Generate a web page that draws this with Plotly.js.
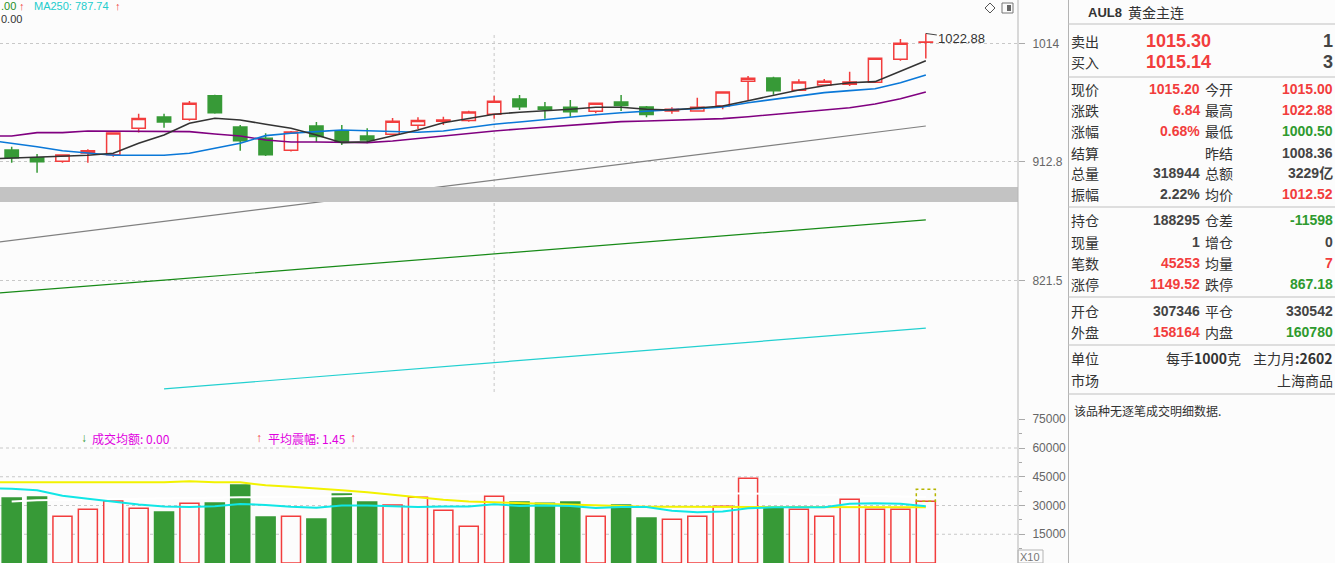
<!DOCTYPE html>
<html><head><meta charset="utf-8">
<script src="https://cdn.plot.ly/plotly-3.0.1.min.js"></script>
<style>html,body{margin:0;padding:0;background:#fcfcfc;overflow:hidden}#chart{width:1335px;height:563px}</style>
</head><body><div id="chart"></div>
<script>
// ---------- data ----------
const idx = Array.from({length:37},(_,i)=>i);
const open  = [922.5,916.2,913.3,920.0,918.6,940.4,949.8,947.9,968.0,941.5,932.1,922.3,942.3,938.4,934.0,935.4,942.9,946.2,947.0,952.2,965.2,958.4,958.1,954.7,962.6,958.4,955.0,955.0,959.2,980.4,983.2,972.6,977.2,977.8,979.5,999.7,1015.0];
const high  = [925.2,919.2,918.6,923.1,936.5,952.7,952.7,963.4,968.8,943.2,936.2,938.2,945.6,943.2,940.4,949.0,949.6,950.1,955.2,968.0,968.6,962.6,964.3,961.5,968.6,959.2,958.1,966.3,971.2,985.0,984.4,982.1,982.4,988.8,1000.6,1017.9,1022.88];
const low   = [912.1,904.1,912.1,912.1,917.0,936.8,940.9,946.7,952.7,921.9,917.6,921.3,929.1,926.5,928.0,935.4,939.6,943.2,945.9,948.4,955.8,948.4,950.1,953.0,955.0,949.6,952.7,954.3,956.4,964.3,968.8,972.6,977.2,976.4,979.5,998.5,1000.5];
const close = [916.2,912.9,918.4,921.9,936.5,948.7,945.6,961.5,953.5,930.1,918.6,937.3,933.5,928.8,930.7,946.2,947.0,947.3,954.1,963.2,958.6,956.4,954.4,961.5,959.5,951.9,956.4,958.1,971.2,983.0,972.3,979.8,980.4,979.8,1000.6,1014.0,1015.2];
const volume = [33913,34435,24365,28017,32348,28539,26609,31148,31304,40696,24000,24365,22957,36000,31826,30261,34278,27496,19148,34800,31826,31148,31826,24365,30261,23478,22800,24365,29583,44191,29374,28017,24365,33235,28017,28017,32191];
const projVolume = 38452;

const maIdx = [-1].concat(idx);
const ma5  = [915.2,916.0,916.6,917.6,918.2,919.8,928.0,934.9,944.6,948.8,947.4,943.8,940.4,934.9,928.5,929.3,934.0,939.0,945.1,948.5,952.2,953.9,955.0,956.4,958.1,958.1,956.4,955.8,957.5,959.2,963.7,968.6,972.9,976.6,979.2,980.1,989.4,998.5];
const ma10 = [930.7,928.2,925.2,921.9,919.8,918.2,918.2,918.2,919.8,923.9,928.0,934.3,936.3,937.6,939.0,938.4,937.6,937.1,938.2,941.3,943.8,945.7,947.9,949.9,951.8,953.5,955.0,956.1,956.9,958.3,962.0,964.9,967.7,970.6,972.3,974.0,979.2,986.0];
const ma20 = [934.0,934.0,936.8,936.8,938.2,938.2,938.2,937.6,937.6,935.7,934.0,930.7,929.1,929.1,928.5,928.5,929.9,932.1,934.0,936.3,938.2,939.8,941.5,943.2,944.9,946.0,946.5,947.1,947.4,948.5,950.1,951.8,953.5,955.8,957.7,960.9,965.4,971.2];
const longIdx = [-1,0,6,12,18,24,30,36];
const ma60  = [849.0,851.4,865.9,880.7,895.8,911.0,926.6,942.3];
const ma120 = [811.9,813.3,822.0,830.9,839.8,848.8,857.9,867.0];
const ma250Idx = [6,12,18,24,30,36];
const ma250 = [746.4,754.5,762.7,771.0,779.4,787.74];

const volMaA = [42104,42104,42104,42104,42104,42104,42104,42104,42626,42104,42104,40539,39756,38974,37930,36887,35530,34174,33026,32035,31670,31096,30678,30261,29843,29478,29374,29374,29374,29374,29322,29217,29061,29217,29374,29322,29217,29061];
const volMaB = [39000,38713,37930,35113,33496,31930,30470,29426,29217,29583,30783,30261,29322,28800,29948,29948,29583,29217,29478,29426,30626,29791,29948,29791,28696,29217,29217,27287,26452,26817,28539,29061,29061,29061,30939,31148,30887,29583];
const volMaWIdx = [0,1,9,13,19,29,36];
const volMaW = [32087,32700,34278,34800,36522,36261,34435];

const priceTicks = [821.5,912.8,1014];
const priceTickText = ['821.5','912.8','1014'];
const volTicks = [15000,30000,45000,60000,75000];
const volMinor = [7500,22500,37500,52500,67500];

const quoteTitle = ['AUL8','黄金主连'];
const bidAsk = [['卖出','1015.30','1'],['买入','1015.14','3']];
const quoteRows = [
 ['现价','1015.20','R','今开','1015.00','R'],
 ['涨跌','6.84','R','最高','1022.88','R'],
 ['涨幅','0.68%','R','最低','1000.50','G'],
 ['结算','','D','昨结','1008.36','D'],
 ['总量','318944','D','总额','3229亿','D'],
 ['振幅','2.22%','D','均价','1012.52','R'],
 ['持仓','188295','D','仓差','-11598','G'],
 ['现量','1','D','增仓','0','D'],
 ['笔数','45253','R','均量','7','R'],
 ['涨停','1149.52','R','跌停','867.18','G'],
 ['开仓','307346','D','平仓','330542','D'],
 ['外盘','158164','R','内盘','160780','G']
];
const unitRow = ['单位','每手1000克','主力月:2602'];
const marketRow = ['市场','上海商品'];
const noteText = '该品种无逐笔成交明细数据.';
const legendTop = ['.00','MA250: 787.74','0.00'];
const legendVol = ['成交均额: 0.00','平均震幅: 1.45'];

// ---------- styling / layout ----------
const BG='#fcfcfc', RED='#f23d3d', GREEN='#379a37', TXTG='#2e9a2e', DARK='#333333', NUM='#444444';
const W=1018, H=563;
const px = v => v/W, py = v => 1 - v/H;
const colOf = c => c==='R'?RED:(c==='G'?TXTG:NUM);
const up = idx.map(i => close[i] >= open[i]);

const traces = [
 {type:'candlestick', x:idx, open:open, high:high, low:low, close:close, xaxis:'x', yaxis:'y',
  increasing:{line:{color:RED,width:1.5}, fillcolor:BG}, decreasing:{line:{color:GREEN,width:1.5}, fillcolor:GREEN},
  whiskerwidth:0, hoverinfo:'skip', showlegend:false},
 {type:'scatter', mode:'lines', x:longIdx, y:ma60, line:{color:'#808080',width:1.2}, xaxis:'x', yaxis:'y', hoverinfo:'skip'},
 {type:'scatter', mode:'lines', x:longIdx, y:ma120, line:{color:'#178a17',width:1.2}, xaxis:'x', yaxis:'y', hoverinfo:'skip'},
 {type:'scatter', mode:'lines', x:ma250Idx, y:ma250, line:{color:'#22d0d0',width:1.2}, xaxis:'x', yaxis:'y', hoverinfo:'skip'},
 {type:'scatter', mode:'lines', x:maIdx, y:ma20, line:{color:'#800080',width:1.6}, xaxis:'x', yaxis:'y', hoverinfo:'skip'},
 {type:'scatter', mode:'lines', x:maIdx, y:ma10, line:{color:'#0a78d8',width:1.6}, xaxis:'x', yaxis:'y', hoverinfo:'skip'},
 {type:'scatter', mode:'lines', x:maIdx, y:ma5, line:{color:'#333333',width:1.6}, xaxis:'x', yaxis:'y', hoverinfo:'skip'},
 {type:'bar', x:idx, y:volume, width:0.75, xaxis:'x2', yaxis:'y2', hoverinfo:'skip',
  marker:{color:up.map(u=>u?BG:GREEN), line:{color:up.map(u=>u?RED:GREEN), width:1.5}}},
 {type:'scatter', mode:'lines', x:volMaWIdx, y:volMaW, line:{color:'#ffffff',width:2}, xaxis:'x2', yaxis:'y2', hoverinfo:'skip'},
 {type:'scatter', mode:'lines', x:maIdx, y:volMaA, line:{color:'#f2f200',width:2}, xaxis:'x2', yaxis:'y2', hoverinfo:'skip'},
 {type:'scatter', mode:'lines', x:maIdx, y:volMaB, line:{color:'#10e6e6',width:2}, xaxis:'x2', yaxis:'y2', hoverinfo:'skip'}
];

const shapes = [];
volTicks.filter(v=>v<70000).forEach(v=>shapes.push({type:'line',xref:'paper',yref:'y2',x0:0,x1:1,y0:v,y1:v,line:{color:'#c8c8c8',width:1,dash:'dot'},layer:'below'}));
shapes.push({type:'line',xref:'x',yref:'paper',x0:19,x1:19,y0:py(392),y1:py(33),line:{color:'#c8c8c8',width:1,dash:'dot'},layer:'below'});
shapes.push({type:'rect',xref:'x2',yref:'y2',x0:36-0.375,x1:36+0.375,y0:volume[36],y1:projVolume,line:{color:'#b5b500',width:1.5,dash:'dot'}});
shapes.push({type:'rect',xref:'paper',yref:'paper',x0:0,x1:1,y0:py(202),y1:py(187),fillcolor:'#c3c3c3',line:{width:0},layer:'above'});
shapes.push({type:'line',xref:'paper',yref:'paper',x0:1,x1:1,y0:0,y1:1,line:{color:'#b4b4b4',width:1}});
shapes.push({type:'line',xref:'paper',yref:'paper',x0:px(1068.5),x1:px(1068.5),y0:0,y1:1,line:{color:'#b4b4b4',width:1}});
[24,77,207,297,345,394].forEach(y=>shapes.push({type:'line',xref:'paper',yref:'paper',x0:px(1068),x1:px(1335),y0:py(y),y1:py(y),line:{color:'#c0c0c0',width:1}}));
shapes.push({type:'rect',xref:'paper',yref:'paper',x0:px(1018),x1:px(1043),y0:py(563),y1:py(550),line:{color:'#b4b4b4',width:1}});
shapes.push({type:'path',xref:'paper',yref:'paper',path:`M ${px(990)} ${py(3)} L ${px(995)} ${py(8)} L ${px(990)} ${py(13)} L ${px(985)} ${py(8)} Z`,line:{color:'#555',width:1}});
shapes.push({type:'rect',xref:'paper',yref:'paper',x0:px(1002),x1:px(1013),y0:py(13),y1:py(3),line:{color:'#777',width:1}});
shapes.push({type:'rect',xref:'paper',yref:'paper',x0:px(1007),x1:px(1011),y0:py(11),y1:py(5),fillcolor:'#666',line:{width:0}});

const ann = [];
const F = 'Liberation Sans, Arial, sans-serif', CJK = 'Noto Sans CJK SC, sans-serif';
function t(text,x,y,opt){ ann.push(Object.assign({text:text,xref:'paper',yref:'paper',x:px(x),y:py(y),showarrow:false,xanchor:'left',yanchor:'middle',borderpad:0,font:{family:F,size:12,color:DARK}},opt||{})); }
// top legend
t(legendTop[0],0,6,{font:{family:F,size:11,color:'#1f8f1f'}});
t('↑',18,6,{font:{family:F,size:11,color:RED}});
t(legendTop[1],33,6,{font:{family:F,size:11,color:'#22cccc'}});
t('↑',114,6,{font:{family:F,size:11,color:RED}});
t(legendTop[2],0,19,{font:{family:F,size:11,color:DARK}});
// volume legend
t('↓',80,438,{font:{family:F,size:12,color:GREEN}});
t(legendVol[0],91,438,{font:{family:CJK,size:12,color:'#e000e0'}});
t('↑',255,438,{font:{family:F,size:12,color:RED}});
t(legendVol[1],267,438,{font:{family:CJK,size:12,color:'#e000e0'}});
t('↑',349,438,{font:{family:F,size:12,color:RED}});
// X10
t('X10',1019,557,{font:{family:F,size:11,color:'#777'}});
// high marker
ann.push({xref:'x',yref:'y',x:36,y:Math.log10(Math.max(...high)),text:Math.max(...high).toFixed(2),showarrow:true,arrowhead:0,arrowwidth:1,arrowcolor:'#444',ax:36,ay:5,xanchor:'center',font:{family:F,size:13,color:DARK}});
// right panel
t('<b>'+quoteTitle[0]+'</b>',1087,12,{font:{family:F,size:13,color:DARK}});
t(quoteTitle[1],1127,12,{font:{family:CJK,size:14,color:DARK}});
const baY=[41,62];
bidAsk.forEach((r,i)=>{
  t(r[0],1070,baY[i],{font:{family:CJK,size:14,color:DARK}});
  t('<b>'+r[1]+'</b>',1212,baY[i],{xanchor:'right',font:{family:F,size:18,color:RED}});
  t('<b>'+r[2]+'</b>',1334,baY[i],{xanchor:'right',font:{family:F,size:18,color:NUM}});
});
const rowY=[89,110,131,153,173,194,220,242,263,284,311,332];
quoteRows.forEach((r,i)=>{
  t(r[0],1070,rowY[i],{font:{family:CJK,size:14,color:DARK}});
  if(r[1]) t('<b>'+r[1]+'</b>',1201,rowY[i],{xanchor:'right',font:{family:F+', '+CJK,size:14,color:colOf(r[2])}});
  t(r[3],1204,rowY[i],{font:{family:CJK,size:14,color:DARK}});
  t('<b>'+r[4]+'</b>',1334,rowY[i],{xanchor:'right',font:{family:F+', '+CJK,size:14,color:colOf(r[5])}});
});
t(unitRow[0],1070,358,{font:{family:CJK,size:14,color:DARK}});
t(unitRow[1].replace('1000','<b>1000</b>'),1242,358,{xanchor:'right',font:{family:CJK,size:14,color:DARK}});
t(unitRow[2].replace(':2602','<b>:2602</b>'),1334,358,{xanchor:'right',font:{family:CJK,size:14,color:DARK}});
t(marketRow[0],1070,380,{font:{family:CJK,size:14,color:DARK}});
t(marketRow[1],1334,380,{xanchor:'right',font:{family:CJK,size:14,color:DARK}});
t(noteText,1073,410,{font:{family:CJK,size:12,color:DARK}});

const xr=[-0.46,39.63];
const layout = {
  width:1335, height:563, margin:{l:0,r:317,t:0,b:0,pad:0},
  paper_bgcolor:BG, plot_bgcolor:'rgba(0,0,0,0)', showlegend:false, boxgap:0.25,
  xaxis:{domain:[0,1],range:xr,visible:false,fixedrange:true,rangeslider:{visible:false}},
  xaxis2:{domain:[0,1],range:xr,visible:false,anchor:'y2',fixedrange:true},
  yaxis:{type:'log',domain:[135/563,1],range:[2.857924,3.022709],side:'right',anchor:'x',
    tickmode:'array',tickvals:priceTicks,ticktext:priceTickText,ticks:'outside',ticklen:6,tickcolor:'#aaa',
    ticklabelstandoff:5,tickfont:{family:F,size:12,color:'#666'},showgrid:true,griddash:'dot',gridcolor:'#c8c8c8',
    zeroline:false,showline:false,fixedrange:true},
  yaxis2:{domain:[0,149/563],range:[0,77739],side:'right',anchor:'x2',
    tickmode:'array',tickvals:volTicks,ticktext:volTicks.map(String),ticks:'outside',ticklen:6,tickcolor:'#aaa',
    ticklabelstandoff:5,tickfont:{family:F,size:12,color:'#666'},showgrid:false,zeroline:false,showline:false,fixedrange:true,
    minor:{tickvals:volMinor,ticks:'outside',ticklen:3,tickcolor:'#aaa',showgrid:false}},
  shapes:shapes, annotations:ann, hovermode:false
};
Plotly.newPlot('chart',traces,layout,{displayModeBar:false,staticPlot:true});
</script></body></html>
